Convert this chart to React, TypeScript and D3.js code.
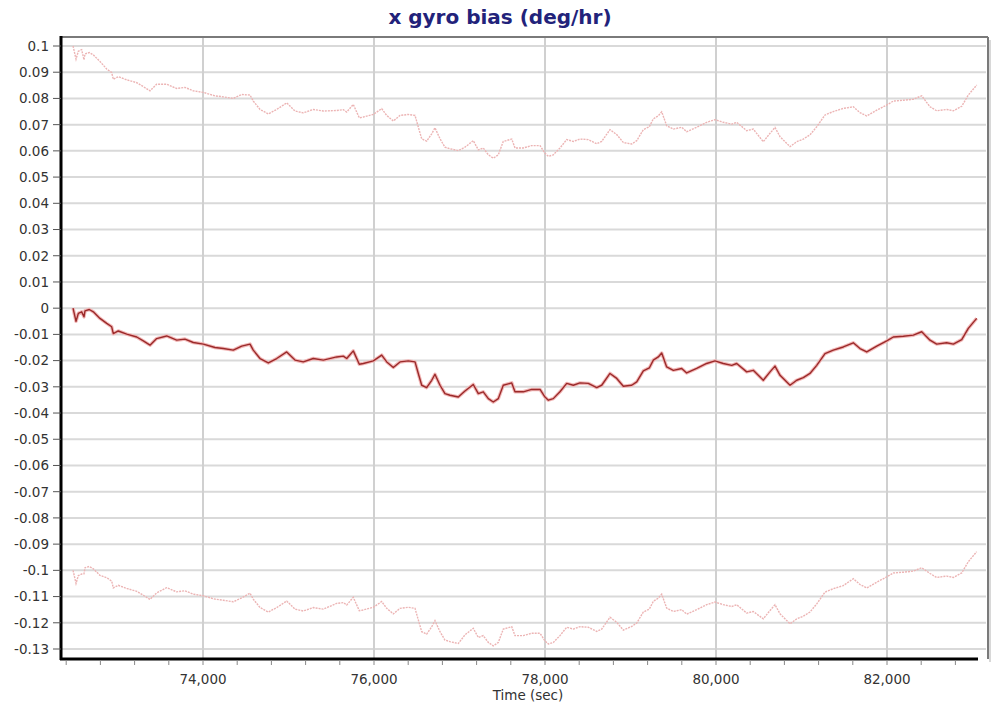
import React from "react";
import * as d3 from "d3";

// ---- data ----
const times: number[] = [
  72480, 72515, 72542, 72581, 72608, 72620, 72670, 72717, 72795, 72874,
  72932, 72951, 73009, 73108, 73225, 73302, 73380, 73458, 73575, 73692,
  73789, 73887, 74004, 74140, 74237, 74354, 74453, 74550, 74588, 74667,
  74764, 74862, 74979, 75076, 75173, 75290, 75407, 75564, 75641, 75681,
  75758, 75828, 75875, 75992, 76090, 76149, 76226, 76304, 76401, 76480,
  76518, 76558, 76616, 76675, 76713, 76772, 76830, 76889, 76986, 77064,
  77161, 77220, 77278, 77337, 77395, 77454, 77512, 77611, 77649, 77746,
  77844, 77942, 78000, 78039, 78097, 78175, 78254, 78331, 78409, 78506,
  78605, 78663, 78760, 78839, 78916, 79014, 79073, 79150, 79220, 79267,
  79325, 79365, 79423, 79501, 79599, 79657, 79774, 79891, 79988, 80085,
  80184, 80242, 80359, 80436, 80553, 80632, 80690, 80749, 80866, 80944,
  81021, 81099, 81178, 81275, 81372, 81489, 81606, 81684, 81763, 81880,
  81997, 82074, 82191, 82308, 82406, 82503, 82581, 82698, 82776, 82874,
  82951, 83049,
];

const biasEstimate: number[] = [
  0.0, -0.005, -0.002, -0.0014, -0.0033, -0.001, -0.0005, -0.0014, -0.0039, -0.0058,
  -0.0071, -0.0097, -0.0087, -0.0099, -0.011, -0.0125, -0.0141, -0.0116, -0.0106, -0.0122,
  -0.0118, -0.0131, -0.0137, -0.015, -0.0154, -0.016, -0.0145, -0.0137, -0.016, -0.0192,
  -0.0209, -0.0192, -0.0167, -0.0198, -0.0205, -0.0192, -0.0198, -0.0186, -0.0183, -0.0192,
  -0.0163, -0.0214, -0.0211, -0.0201, -0.0179, -0.0205, -0.0226, -0.0205, -0.0201, -0.0205,
  -0.0249, -0.0294, -0.0303, -0.0275, -0.0252, -0.0294, -0.0326, -0.0332, -0.0339, -0.0316,
  -0.0291, -0.0326, -0.0319, -0.0345, -0.0358, -0.0345, -0.0294, -0.0285, -0.0319, -0.0319,
  -0.031, -0.031, -0.0339, -0.0351, -0.0345, -0.0319, -0.0287, -0.0294, -0.0285, -0.0287,
  -0.0303, -0.0294, -0.0249, -0.0268, -0.0298, -0.0294, -0.0281, -0.0239, -0.0228, -0.0198,
  -0.0186, -0.0171, -0.0224, -0.0237, -0.023, -0.0247, -0.023, -0.0211, -0.0201, -0.0211,
  -0.0218, -0.0211, -0.0243, -0.0237, -0.0275, -0.0243, -0.0221, -0.0256, -0.0294, -0.0275,
  -0.0265, -0.0249, -0.0218, -0.0173, -0.016, -0.0148, -0.0132, -0.0154, -0.0167, -0.0145,
  -0.0125, -0.011, -0.0107, -0.0103, -0.009, -0.0122, -0.0137, -0.0132, -0.0137, -0.012,
  -0.0077, -0.0039,
];

const upperBound: number[] = [
  0.1, 0.095, 0.098, 0.0986, 0.0947, 0.097, 0.0975, 0.0966, 0.0941, 0.0912,
  0.0899, 0.0873, 0.0883, 0.0871, 0.086, 0.0845, 0.0829, 0.0854, 0.0854, 0.0838,
  0.0842, 0.0829, 0.0823, 0.081, 0.0806, 0.08, 0.0815, 0.0813, 0.079, 0.0758,
  0.0741, 0.0758, 0.0783, 0.0752, 0.0745, 0.0758, 0.0752, 0.0754, 0.0757, 0.0748,
  0.0777, 0.0726, 0.0729, 0.0739, 0.0761, 0.0735, 0.0714, 0.0735, 0.0739, 0.0735,
  0.0691, 0.0646, 0.0637, 0.0665, 0.0688, 0.0646, 0.0614, 0.0608, 0.0601, 0.0614,
  0.0639, 0.0604, 0.0611, 0.0585, 0.0572, 0.0585, 0.0636, 0.0645, 0.0611, 0.0611,
  0.062, 0.062, 0.0591, 0.0579, 0.0585, 0.0611, 0.0643, 0.0636, 0.0645, 0.0643,
  0.0627, 0.0636, 0.0681, 0.0662, 0.0632, 0.0626, 0.0639, 0.0681, 0.0692, 0.0722,
  0.0734, 0.0749, 0.0696, 0.0683, 0.069, 0.0673, 0.069, 0.0709, 0.0719, 0.0709,
  0.0702, 0.0709, 0.0677, 0.0683, 0.0635, 0.0667, 0.0689, 0.0654, 0.0616, 0.0635,
  0.0645, 0.0661, 0.0692, 0.0737, 0.075, 0.0762, 0.0768, 0.0746, 0.0733, 0.0755,
  0.0775, 0.079, 0.0793, 0.0797, 0.081, 0.0768, 0.0753, 0.0758, 0.0753, 0.077,
  0.0813, 0.0851,
];

const lowerBound: number[] = [
  -0.1, -0.105, -0.102, -0.1014, -0.1013, -0.099, -0.0985, -0.0994, -0.1019, -0.1028,
  -0.1041, -0.1067, -0.1057, -0.1069, -0.108, -0.1095, -0.1111, -0.1086, -0.1066, -0.1082,
  -0.1078, -0.1091, -0.1097, -0.111, -0.1114, -0.112, -0.1105, -0.1087, -0.111, -0.1142,
  -0.1159, -0.1142, -0.1117, -0.1148, -0.1155, -0.1142, -0.1148, -0.1126, -0.1123, -0.1132,
  -0.1103, -0.1154, -0.1151, -0.1141, -0.1119, -0.1145, -0.1166, -0.1145, -0.1141, -0.1145,
  -0.1189, -0.1234, -0.1243, -0.1215, -0.1192, -0.1234, -0.1266, -0.1272, -0.1279, -0.1246,
  -0.1221, -0.1256, -0.1249, -0.1275, -0.1288, -0.1275, -0.1224, -0.1215, -0.1249, -0.1249,
  -0.124, -0.124, -0.1269, -0.1281, -0.1275, -0.1249, -0.1217, -0.1224, -0.1215, -0.1217,
  -0.1233, -0.1224, -0.1179, -0.1198, -0.1228, -0.1214, -0.1201, -0.1159, -0.1148, -0.1118,
  -0.1106, -0.1091, -0.1144, -0.1157, -0.115, -0.1167, -0.115, -0.1131, -0.1121, -0.1131,
  -0.1138, -0.1131, -0.1163, -0.1157, -0.1185, -0.1153, -0.1131, -0.1166, -0.1204, -0.1185,
  -0.1175, -0.1159, -0.1128, -0.1083, -0.107, -0.1058, -0.1032, -0.1054, -0.1067, -0.1045,
  -0.1025, -0.101, -0.1007, -0.1003, -0.099, -0.1012, -0.1027, -0.1022, -0.1027, -0.101,
  -0.0967, -0.0929,
];

const yTicks: number[] = [
  0.1, 0.09, 0.08, 0.07, 0.06, 0.05, 0.04, 0.03, 0.02, 0.01, 0,
  -0.01, -0.02, -0.03, -0.04, -0.05, -0.06, -0.07, -0.08, -0.09, -0.1,
  -0.11, -0.12, -0.13,
];
const yTickLabels: string[] = yTicks.map((v) => String(+v.toFixed(2)));
const xMajorTicks: number[] = [74000, 76000, 78000, 80000, 82000];
const xTickLabels: string[] = ["74,000", "76,000", "78,000", "80,000", "82,000"];
const xMinorTicks: number[] = d3.range(72400, 83200, 400);

const TITLE = "x gyro bias (deg/hr)";
const X_LABEL = "Time (sec)";

// ---- layout ----
const W = 997;
const H = 711;
const plotL = 61;
const plotR = 988;
const plotT = 37;
const plotB = 659;
const FONT = "'DejaVu Sans', Verdana, sans-serif";

export default function App() {
  const x = d3.scaleLinear().domain([74000, 82000]).range([203, 887]);
  const y = d3.scaleLinear().domain([-0.13, 0.1]).range([649, 46]);

  const mkLine = (vals: number[]) =>
    d3
      .line<number>()
      .x((_, i) => x(times[i]))
      .y((v) => y(v))(vals) || "";

  return (
    <svg
      width={W}
      height={H}
      style={{ position: "absolute", left: 0, top: 0, background: "#fff" }}
      fontFamily={FONT}
    >
      <rect x={0} y={0} width={W} height={H} fill="#fff" />
      {/* title */}
      <text
        x={500}
        y={24}
        textAnchor="middle"
        fontSize={20}
        fontWeight="bold"
        fill="#22227a"
      >
        {TITLE}
      </text>

      {/* grid */}
      {yTicks.map((v) => (
        <line
          key={"gy" + v}
          x1={plotL}
          x2={plotR - 2}
          y1={y(v)}
          y2={y(v)}
          stroke="#d9d9d9"
          strokeWidth={2}
        />
      ))}
      {xMajorTicks.map((t) => (
        <line
          key={"gx" + t}
          x1={x(t)}
          x2={x(t)}
          y1={plotT}
          y2={plotB}
          stroke="#d0d0d0"
          strokeWidth={2}
        />
      ))}

      {/* frame: shadow + top/right border */}
      <line x1={plotR + 2} x2={plotR + 2} y1={plotT + 3} y2={plotB + 3} stroke="#d8d8d8" strokeWidth={2} />
      <line x1={plotL} x2={plotR} y1={plotT} y2={plotT} stroke="#7a7a7a" strokeWidth={2} />
      <line x1={plotR} x2={plotR} y1={plotT} y2={plotB} stroke="#7a7a7a" strokeWidth={2} />

      {/* series */}
      <path d={mkLine(upperBound)} fill="none" stroke="#ecb4b4" strokeWidth={1.4} strokeDasharray="2,1" />
      <path d={mkLine(lowerBound)} fill="none" stroke="#ecb4b4" strokeWidth={1.4} strokeDasharray="2,1" />
      <path d={mkLine(biasEstimate)} fill="none" stroke="#f2b8b8" strokeWidth={3.5} strokeLinejoin="round" />
      <path d={mkLine(biasEstimate)} fill="none" stroke="#9b2a2a" strokeWidth={1.4} strokeLinejoin="round" />

      {/* axes */}
      <line x1={plotL} x2={plotL} y1={plotT - 1} y2={plotB + 1} stroke="#000" strokeWidth={3} />
      <line x1={plotL - 1} x2={978} y1={plotB} y2={plotB} stroke="#000" strokeWidth={3} />

      {/* y ticks & labels */}
      {yTicks.map((v, i) => (
        <g key={"ty" + v}>
          <line x1={53} x2={plotL} y1={y(v)} y2={y(v)} stroke="#555" strokeWidth={1} />
          <text
            x={49}
            y={y(v)}
            dy="0.36em"
            textAnchor="end"
            fontSize={13.5}
            fill="#333"
          >
            {yTickLabels[i]}
          </text>
        </g>
      ))}

      {/* x ticks & labels */}
      {xMinorTicks.map((t) => (
        <line
          key={"tx" + t}
          x1={x(t)}
          x2={x(t)}
          y1={plotB + 1}
          y2={plotB + 6}
          stroke="#888"
          strokeWidth={1}
        />
      ))}
      {xMajorTicks.map((t, i) => (
        <text
          key={"lx" + t}
          x={x(t)}
          y={684}
          textAnchor="middle"
          fontSize={13.5}
          fill="#333"
        >
          {xTickLabels[i]}
        </text>
      ))}
      <text x={528} y={700} textAnchor="middle" fontSize={13.5} fill="#333">
        {X_LABEL}
      </text>
    </svg>
  );
}
